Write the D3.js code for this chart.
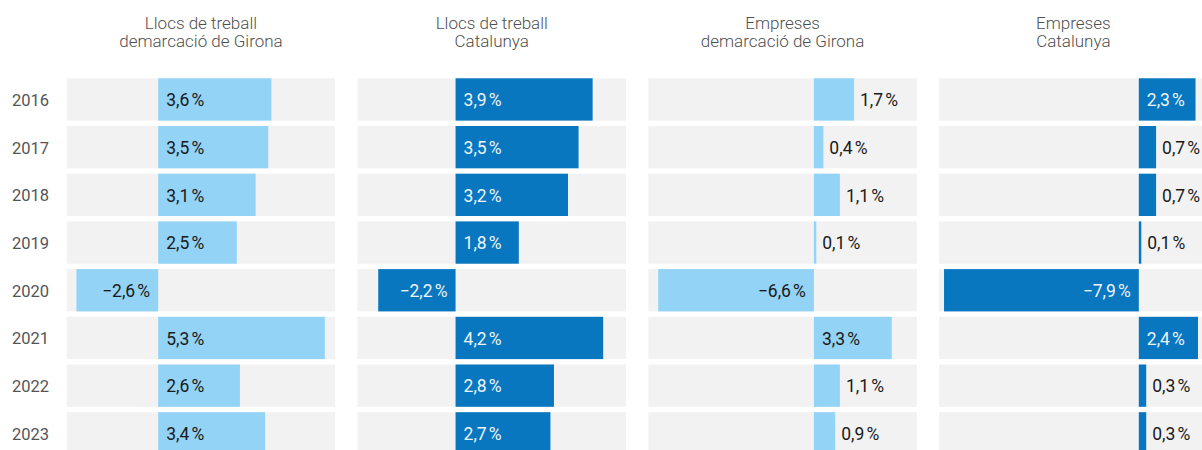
<!DOCTYPE html>
<html>
<head>
<meta charset="utf-8">
<script src="https://cdn.jsdelivr.net/npm/d3@7"></script>
<style>
  html, body { margin: 0; padding: 0; background: #fff; }
  svg { display: block; font-family: Roboto, "Noto Sans", sans-serif; }
</style>
</head>
<body>
<svg id="chart" width="1202" height="450"></svg>
<script>
// ---- data ----
const years = ["2016", "2017", "2018", "2019", "2020", "2021", "2022", "2023"];
const panelTitles = [
  ["Llocs de treball", "demarcació de Girona"],
  ["Llocs de treball", "Catalunya"],
  ["Empreses", "demarcació de Girona"],
  ["Empreses", "Catalunya"]
];
const llocsGirona    = [3.6, 3.5, 3.1, 2.5, -2.6, 5.3, 2.6, 3.4];
const llocsCatalunya = [3.9, 3.5, 3.2, 1.8, -2.2, 4.2, 2.8, 2.7];
const empresesGirona = [1.7, 0.4, 1.1, 0.1, -6.6, 3.3, 1.1, 0.9];
const empresesCatalunya = [2.3, 0.7, 0.7, 0.1, -7.9, 2.4, 0.3, 0.3];
const panelSeries = [llocsGirona, llocsCatalunya, empresesGirona, empresesCatalunya];
// per-panel value domains (scale extents)
const panelDomains = [[-2.91, 5.63], [-2.79, 4.85], [-7.02, 4.36], [-8.1, 2.79]];

// ---- styles / layout ----
const lightBlue = "#93d3f6";
const darkBlue = "#0877bf";
const bgGray = "#f2f2f3";
const panelW = 268.5;
const panelStep = 290.8;
const firstPanelX = 66.7;

const svg = d3.select("#chart");

const pInner = 0.113;
const rowStep = 47.7;
const rowTop = 78.3 - rowStep * pInner / 2;
const y = d3.scaleBand()
  .domain(years)
  .range([rowTop, rowTop + years.length * rowStep])
  .paddingInner(pInner)
  .paddingOuter(pInner / 2);

const fmt = v => (v < 0 ? "\u2212" : "") + d3.format(".1f")(Math.abs(v)).replace(".", ",") + "\u202F%";

// year labels
svg.append("g").selectAll("text")
  .data(years)
  .join("text")
  .attr("x", 12)
  .attr("y", d => y(d) + y.bandwidth() / 2 + 6.5)
  .attr("font-size", 16.5)
  .attr("fill", "#555")
  .text(d => d);

panelSeries.forEach((vals, i) => {
  const x0 = firstPanelX + i * panelStep;
  const g = svg.append("g").attr("transform", `translate(${x0},0)`);
  const x = d3.scaleLinear().domain(panelDomains[i]).range([0, panelW]);
  const color = i % 2 === 0 ? lightBlue : darkBlue;
  const insideColor = i % 2 === 0 ? "#1a1a1a" : "#eef4fb";

  // title
  const t = g.append("text")
    .attr("x", panelW / 2)
    .attr("text-anchor", "middle")
    .attr("font-size", 17)
    .attr("font-weight", 300)
    .attr("fill", "#505050");
  panelTitles[i].forEach((line, k) => {
    t.append("tspan").attr("x", panelW / 2).attr("y", 29 + k * 17.6).text(line);
  });

  // background rows
  g.selectAll("rect.bg")
    .data(years)
    .join("rect")
    .attr("class", "bg")
    .attr("x", 0)
    .attr("width", panelW)
    .attr("y", d => y(d))
    .attr("height", y.bandwidth())
    .attr("fill", bgGray);

  const data = years.map((yr, j) => ({ yr, v: vals[j] }));

  g.selectAll("rect.bar")
    .data(data)
    .join("rect")
    .attr("class", "bar")
    .attr("x", d => Math.min(x(0), x(d.v)))
    .attr("width", d => Math.max(1, Math.abs(x(d.v) - x(0))))
    .attr("y", d => y(d.yr))
    .attr("height", y.bandwidth())
    .attr("fill", color);

  g.selectAll("text.lbl")
    .data(data)
    .join("text")
    .attr("class", "lbl")
    .attr("font-size", 17.5)
    .attr("y", d => y(d.yr) + y.bandwidth() / 2 + 6.8)
    .text(d => fmt(d.v))
    .each(function (d) {
      const el = d3.select(this);
      const tw = this.getComputedTextLength();
      const bw = Math.abs(x(d.v) - x(0));
      const inside = bw > tw + 12;
      if (d.v >= 0) {
        if (inside) {
          el.attr("x", x(0) + 8).attr("text-anchor", "start").attr("fill", insideColor);
        } else {
          el.attr("x", x(d.v) + 6).attr("text-anchor", "start").attr("fill", "#1a1a1a");
        }
      } else {
        if (inside) {
          el.attr("x", x(0) - 8).attr("text-anchor", "end").attr("fill", insideColor);
        } else {
          el.attr("x", x(d.v) - 6).attr("text-anchor", "end").attr("fill", "#1a1a1a");
        }
      }
    });
});
</script>
</body>
</html>
